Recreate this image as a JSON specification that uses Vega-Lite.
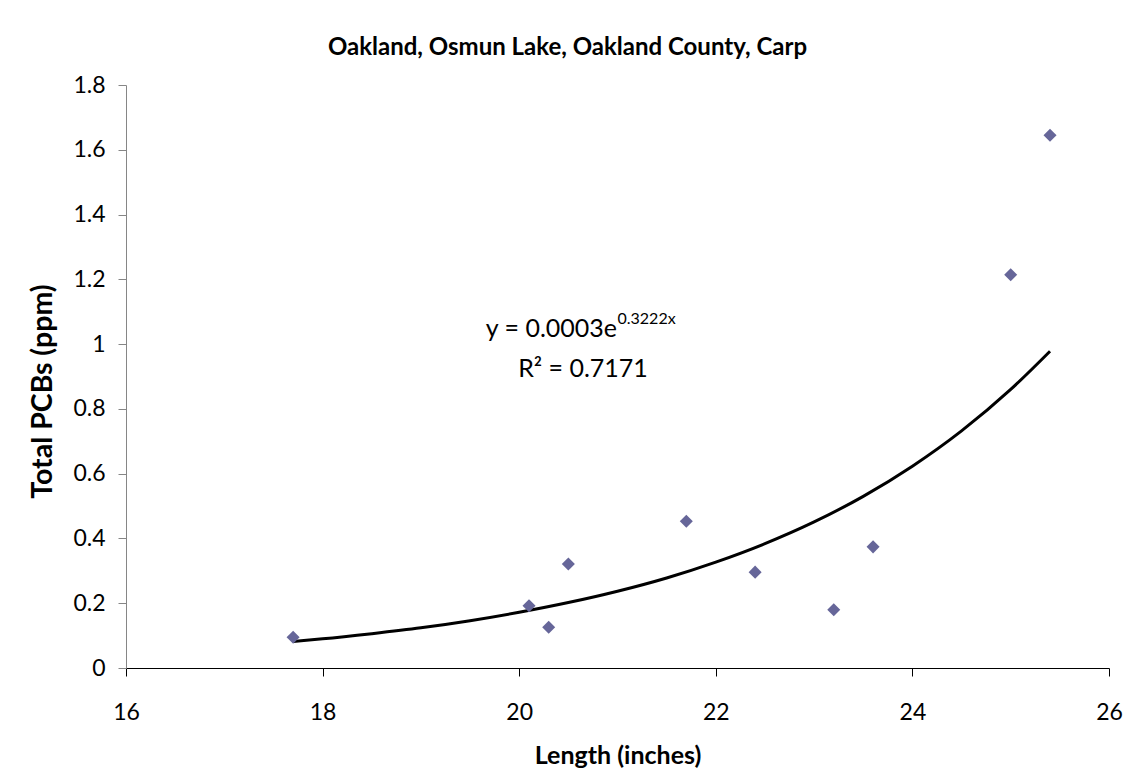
{
  "$schema": "https://vega.github.io/schema/vega-lite/v6.json",
  "autosize": {"type": "none"},
  "padding": {"left": 126, "top": 85, "right": 30, "bottom": 104},
  "width": 983,
  "height": 583,
  "background": "white",
  "config": {
    "view": {"stroke": null},
    "font": "Lato",
    "axis": {"grid": false, "labelFont": "Lato", "titleFont": "Lato", "labelColor": "black", "titleColor": "black", "labelFontSize": 23, "titleFontWeight": "bold", "tickSize": 8}
  },
  "title": {"text": "Oakland, Osmun Lake, Oakland County, Carp", "font": "Lato", "fontSize": 24, "fontWeight": "bold", "color": "black", "anchor": "middle", "frame": "group", "dx": -50, "offset": 14},
  "datasets": {
    "points": [
      {"length": 17.7, "pcb": 0.095},
      {"length": 20.1, "pcb": 0.192},
      {"length": 20.3, "pcb": 0.126},
      {"length": 20.5, "pcb": 0.321},
      {"length": 21.7, "pcb": 0.453},
      {"length": 22.4, "pcb": 0.296},
      {"length": 23.2, "pcb": 0.180},
      {"length": 23.6, "pcb": 0.374},
      {"length": 25.0, "pcb": 1.214},
      {"length": 25.4, "pcb": 1.645}
    ],
    "trend": [
      {"length": 17.7, "pcb": 0.082},
      {"length": 18.0, "pcb": 0.090},
      {"length": 18.5, "pcb": 0.106},
      {"length": 19.0, "pcb": 0.124},
      {"length": 19.5, "pcb": 0.146},
      {"length": 20.0, "pcb": 0.172},
      {"length": 20.5, "pcb": 0.202},
      {"length": 21.0, "pcb": 0.237},
      {"length": 21.5, "pcb": 0.278},
      {"length": 22.0, "pcb": 0.327},
      {"length": 22.5, "pcb": 0.384},
      {"length": 23.0, "pcb": 0.451},
      {"length": 23.5, "pcb": 0.530},
      {"length": 24.0, "pcb": 0.623},
      {"length": 24.5, "pcb": 0.732},
      {"length": 25.0, "pcb": 0.860},
      {"length": 25.4, "pcb": 0.978}
    ]
  },
  "layer": [
    {
      "data": {"name": "trend"},
      "mark": {"type": "line", "color": "black", "strokeWidth": 3, "interpolate": "monotone"},
      "encoding": {
        "x": {"field": "length", "type": "quantitative", "scale": {"domain": [16, 26], "nice": false, "zero": false},
          "axis": {"title": "Length (inches)", "titleFontSize": 25, "titlePadding": 19, "values": [16, 18, 20, 22, 24, 26], "labelPadding": 25, "labelFlush": false, "domainColor": "black", "tickColor": "black", "format": "~g"}},
        "y": {"field": "pcb", "type": "quantitative", "scale": {"domain": [0, 1.8], "nice": false},
          "axis": {"title": "Total PCBs (ppm)", "titleFontSize": 28.5, "titleX": -69, "titleY": 306, "values": [0, 0.2, 0.4, 0.6, 0.8, 1, 1.2, 1.4, 1.6, 1.8], "labelPadding": 13, "domainColor": "#868686", "tickColor": "#868686", "format": "~g"}}
      }
    },
    {
      "data": {"name": "points"},
      "mark": {"type": "point", "shape": "diamond", "filled": true, "color": "#666699", "size": 170, "opacity": 1},
      "encoding": {
        "x": {"field": "length", "type": "quantitative"},
        "y": {"field": "pcb", "type": "quantitative"}
      }
    },
    {
      "data": {"values": [{}]},
      "mark": {"type": "text", "text": "y = 0.0003e", "font": "Lato", "fontSize": 25, "align": "right", "baseline": "alphabetic", "color": "black"},
      "encoding": {"x": {"datum": 20.995}, "y": {"datum": 1.022}}
    },
    {
      "data": {"values": [{}]},
      "mark": {"type": "text", "text": "0.3222x", "font": "Lato", "fontSize": 16, "align": "left", "baseline": "alphabetic", "color": "black"},
      "encoding": {"x": {"datum": 21.0}, "y": {"datum": 1.062}}
    },
    {
      "data": {"values": [{}]},
      "mark": {"type": "text", "text": "R² = 0.7171", "font": "Lato", "fontSize": 25, "align": "center", "baseline": "alphabetic", "color": "black"},
      "encoding": {"x": {"datum": 20.649}, "y": {"datum": 0.898}}
    }
  ]
}
